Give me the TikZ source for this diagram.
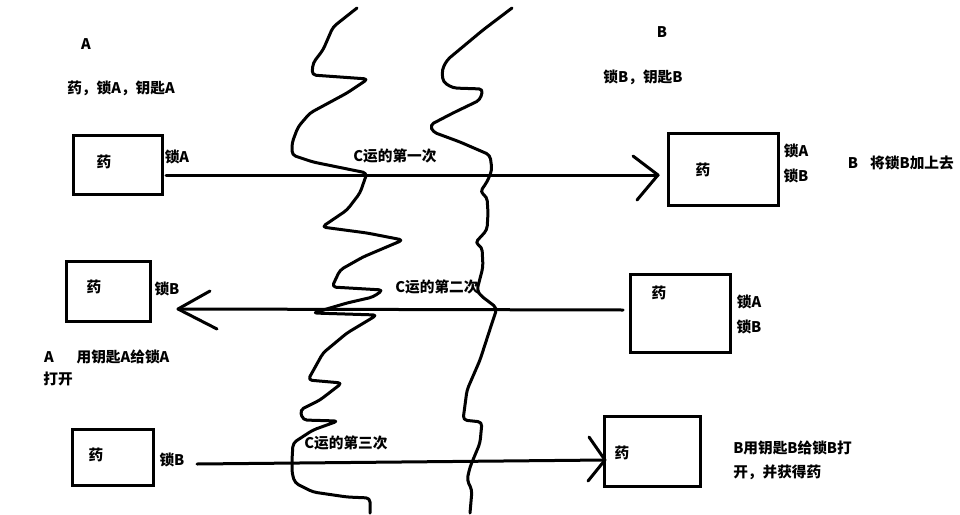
\documentclass[tikz,border=0pt]{standalone}
\usepackage{fontspec}
\setmainfont{Noto Sans CJK SC}
\begin{document}
\begin{tikzpicture}[x=0.75pt,y=-0.75pt,
  ink/.style={line width=2.25pt,line join=round,line cap=round},
  box/.style={draw,line width=2.25pt,rectangle,inner sep=0pt},
  lbl/.style={inner sep=0pt,font=\fontsize{11}{13}\selectfont\bfseries},
  river/.style={ink,rounded corners=3pt}]
\useasboundingbox (0,0) rectangle (960,514);
% boxes
\node[box,minimum width=66.75pt,minimum height=44.25pt] (a1) at (118,165) {};
\node[box,minimum width=82.5pt,minimum height=54pt] (b1) at (723.5,169.5) {};
\node[box,minimum width=63pt,minimum height=45pt] (a2) at (108.5,291.5) {};
\node[box,minimum width=75pt,minimum height=58.5pt] (b2) at (680.5,313.5) {};
\node[box,minimum width=60.75pt,minimum height=42pt] (a3) at (113,457.5) {};
\node[box,minimum width=72pt,minimum height=52.5pt] (b3) at (652.5,451.5) {};
% texts
\node[lbl] (tA) at (86,44) {A};
\node[lbl] (tA1) at (121,88) {药，锁A，钥匙A};
\node[lbl] (m1) at (104,162) {药};
\node[lbl] (l1) at (177,157) {锁A};
\node[lbl] (c1) at (395,156) {C运的第一次};
\node[lbl] (tB) at (662,32) {B};
\node[lbl] (tB1) at (643,77) {锁B，钥匙B};
\node[lbl] (m2) at (703,170) {药};
\node[lbl] (l2a) at (796,151) {锁A};
\node[lbl] (l2b) at (796,176) {锁B};
\node[lbl] (bB) at (853,163) {B};
\node[lbl] (bB2) at (912,163) {将锁B加上去};
\node[lbl] (m3) at (94,287) {药};
\node[lbl] (l3) at (167,289) {锁B};
\node[lbl] (c2) at (437,287) {C运的第二次};
\node[lbl] (m4) at (659,293) {药};
\node[lbl] (l4a) at (749,302) {锁A};
\node[lbl] (l4b) at (749,327) {锁B};
\node[lbl] (aA) at (49,357) {A};
\node[lbl] (aA2) at (123,357) {用钥匙A给锁A};
\node[lbl] (aA3) at (58,379) {打开};
\node[lbl] (m5) at (96,455) {药};
\node[lbl] (l5) at (172,460) {锁B};
\node[lbl] (c3) at (346,443) {C运的第三次};
\node[lbl] (m6) at (622,453) {药};
\node[lbl,anchor=west] (fin1) at (733,448) {B用钥匙B给锁B打};
\node[lbl,anchor=west] (fin2) at (733,472) {开，并获得药};
% arrows
\coordinate (s1) at (166,175);
\coordinate (t1) at (658,175);
\coordinate (t1u) at (633,156);
\coordinate (t1d) at (637,200);
\draw[ink] (s1) -- (t1);
\draw[ink] (t1u) -- (t1) -- (t1d);
\coordinate (s2) at (623,310);
\coordinate (t2) at (178,309);
\coordinate (t2u) at (210,291);
\coordinate (t2d) at (217,329);
\draw[ink] (s2) -- (t2);
\draw[ink] (t2u) -- (t2) -- (t2d);
\coordinate (s3) at (197,464);
\coordinate (t3) at (605,460);
\coordinate (t3u) at (589,437);
\coordinate (t3d) at (588,481);
\draw[ink] (s3) -- (t3);
\draw[ink] (t3u) -- (t3) -- (t3d);
% rivers
\draw[river] (357,8) -- (333,27) -- (323,50) -- (313,63) -- (312,75) -- (368,79) -- (347,93) -- (310,113) -- (298,127) -- (292,143) -- (292,155) -- (313,162) -- (367,173) -- (360,193) -- (347,210) -- (322,227) -- (367,233) -- (403,240) -- (363,257) -- (340,270) -- (332,287) -- (383,290) -- (373,297) -- (347,303) -- (313,313) -- (377,315) -- (347,333) -- (323,353) -- (308,380) -- (342,383) -- (320,400) -- (300,410) -- (303,420) -- (338,421) -- (313,430) -- (293,443) -- (292,460) -- (292,473) -- (295,483) -- (313,492) -- (347,497) -- (370,498) -- (370,513);
\draw[river] (512,8) -- (483,30) -- (447,60) -- (442,70) -- (443,82) -- (453,88) -- (483,89) -- (480,100) -- (453,113) -- (430,125) -- (433,132) -- (460,142) -- (490,155) -- (492,170) -- (487,182) -- (480,192) -- (487,197) -- (488,213) -- (487,230) -- (475,243) -- (482,247) -- (483,267) -- (477,290) -- (480,295) -- (497,308) -- (493,320) -- (480,360) -- (467,390) -- (463,420) -- (482,422) -- (480,443) -- (470,467) -- (467,480) -- (472,490) -- (470,513);
\end{tikzpicture}
\end{document}
